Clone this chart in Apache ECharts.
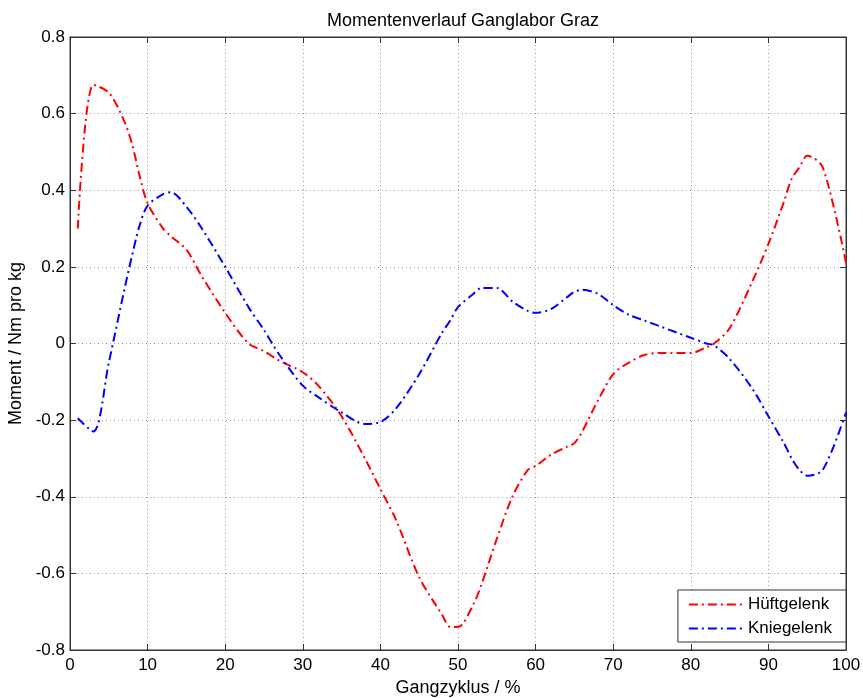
<!DOCTYPE html>
<html>
<head>
<meta charset="utf-8">
<script src="https://cdn.jsdelivr.net/npm/echarts@6/dist/echarts.min.js"></script>
<style>
  html, body { margin: 0; padding: 0; background: #fff; }
  #main { width: 863px; height: 698px; }
</style>
</head>
<body>
<div id="main"></div>
<script>
// Gangzyklus in %
var gait = [1, 3, 5, 7, 8, 9, 10, 12, 13, 15, 17, 20, 23, 25, 27, 30, 32, 35, 38, 40,
            42, 45, 48, 49, 50, 52, 53, 55, 57, 59, 60, 62, 64, 65, 66, 68, 70, 72, 74, 76,
            80, 82, 83, 85, 88, 90, 92, 93, 94, 95, 97, 100];

// Hüftgelenk
var hip = [0.30, 0.675, 0.655, 0.58, 0.52, 0.435, 0.366, 0.30, 0.28, 0.245, 0.175, 0.08, 0.0, -0.02, -0.045, -0.075,
           -0.11, -0.19, -0.30, -0.38, -0.46, -0.61, -0.71, -0.74, -0.74, -0.68, -0.63, -0.51, -0.40, -0.33,
           -0.32, -0.29, -0.27, -0.26, -0.23, -0.15, -0.08, -0.05, -0.03, -0.025, -0.025, -0.01, 0.0, 0.04,
           0.165, 0.26, 0.37, 0.43, 0.46, 0.49, 0.46, 0.21];

// Kniegelenk
var knee = [-0.195, -0.23, -0.05, 0.14, 0.23, 0.31, 0.36, 0.39, 0.395, 0.357, 0.30, 0.20, 0.095, 0.035, -0.03, -0.11,
            -0.14, -0.18, -0.21, -0.205, -0.17, -0.08, 0.03, 0.06, 0.095, 0.13, 0.145, 0.145, 0.11, 0.085,
            0.08, 0.09, 0.12, 0.135, 0.14, 0.13, 0.10, 0.075, 0.06, 0.045, 0.015, 0.0, -0.005, -0.04,
            -0.12, -0.19, -0.26, -0.30, -0.33, -0.345, -0.33, -0.18];

function pairs(ys) {
    return gait.map(function (x, i) { return [x, ys[i]]; });
}

var font = 'Liberation Sans, Arial, sans-serif';
var dashDot = [9, 4, 2, 4];
var axisCol = '#333';
var grid = { color: '#9a9a9a', type: [1, 3], width: 1 };

var myChart = echarts.init(document.getElementById('main'));

var option = {
    backgroundColor: '#fff',
    animation: false,
    textStyle: { fontFamily: font },
    title: {
        text: 'Momentenverlauf Ganglabor Graz',
        left: 458,
        top: 7,
        textAlign: 'center',
        textStyle: { fontFamily: font, fontSize: 18, fontWeight: 'normal', color: '#000' }
    },
    legend: {
        right: 17,
        top: 590,
        orient: 'vertical',
        padding: [6, 14, 5, 10],
        itemGap: 7,
        itemWidth: 54,
        itemHeight: 14,
        backgroundColor: '#fff',
        borderColor: '#333',
        borderWidth: 1,
        itemStyle: { opacity: 0 },
        textStyle: { fontFamily: font, fontSize: 17, color: '#000' },
        data: ['Hüftgelenk', 'Kniegelenk']
    },
    grid: {
        left: 70, right: 17, top: 37, bottom: 48,
        containLabel: false,
        outerBoundsMode: 'none',
        show: true, borderColor: axisCol, borderWidth: 1
    },
    xAxis: [{
        type: 'value',
        min: 0, max: 100, interval: 10,
        name: 'Gangzyklus / %',
        nameLocation: 'middle',
        nameGap: 29,
        nameTextStyle: { fontFamily: font, fontSize: 18, color: '#000' },
        axisLine: { show: true, onZero: false, lineStyle: { color: axisCol } },
        axisTick: { inside: true, length: 6, lineStyle: { color: axisCol } },
        axisLabel: { fontFamily: font, fontSize: 17, color: '#000', margin: 7 },
        splitLine: { show: true, lineStyle: grid }
    }, {
        type: 'value',
        position: 'top',
        min: 0, max: 100, interval: 10,
        axisLine: { show: true, onZero: false, lineStyle: { color: axisCol } },
        axisTick: { inside: true, length: 6, lineStyle: { color: axisCol } },
        axisLabel: { show: false },
        splitLine: { show: false }
    }],
    yAxis: [{
        type: 'value',
        min: -0.8, max: 0.8, interval: 0.2,
        name: 'Moment / Nm pro kg',
        nameLocation: 'middle',
        nameGap: 43,
        nameTextStyle: { fontFamily: font, fontSize: 18, color: '#000' },
        axisLine: { show: true, onZero: false, lineStyle: { color: axisCol } },
        axisTick: { inside: true, length: 6, lineStyle: { color: axisCol } },
        axisLabel: {
            fontFamily: font, fontSize: 17, color: '#000', margin: 5,
            formatter: function (v) { return (Math.round(v * 10) / 10).toString(); }
        },
        splitLine: { show: true, lineStyle: grid }
    }, {
        type: 'value',
        position: 'right',
        min: -0.8, max: 0.8, interval: 0.2,
        axisLine: { show: true, onZero: false, lineStyle: { color: axisCol } },
        axisTick: { inside: true, length: 6, lineStyle: { color: axisCol } },
        axisLabel: { show: false },
        splitLine: { show: false }
    }],
    series: [{
        name: 'Hüftgelenk',
        type: 'line',
        data: pairs(hip),
        smooth: 0.3,
        symbol: 'none',
        color: '#ff0000',
        lineStyle: { color: '#ff0000', width: 2, type: dashDot }
    }, {
        name: 'Kniegelenk',
        type: 'line',
        data: pairs(knee),
        smooth: 0.3,
        symbol: 'none',
        color: '#0000ff',
        lineStyle: { color: '#0000ff', width: 2, type: dashDot }
    }]
};

myChart.setOption(option);
</script>
</body>
</html>
